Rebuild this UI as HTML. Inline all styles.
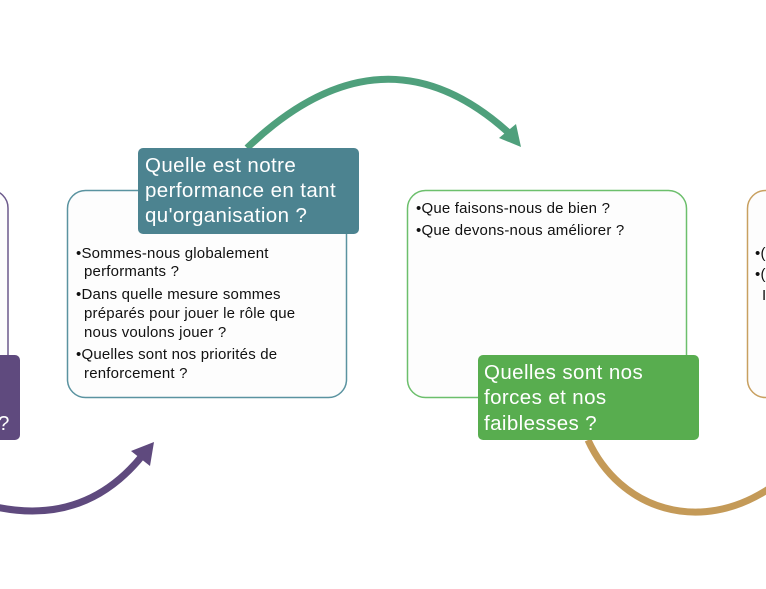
<!DOCTYPE html>
<html><head><meta charset="utf-8"><style>
html,body{margin:0;padding:0;background:#fff;width:766px;height:589px;overflow:hidden}
svg{display:block}
text{font-family:"Liberation Sans",sans-serif}
.b{font-size:15px;fill:#111;letter-spacing:0.2px}
.h{font-size:20.5px;fill:#fff;letter-spacing:0.4px}
</style></head><body>
<svg width="766" height="589" viewBox="0 0 766 589">
<path d="M247 148 Q383 18 510 134" fill="none" stroke="#4fa07c" stroke-width="7"/>
<polygon points="521,147 499,138 516,124" fill="#4fa07c"/>
<path d="M-20 503 Q80 532 142 456" fill="none" stroke="#5f4a7e" stroke-width="7"/>
<polygon points="154,442 150,466 131,451" fill="#5f4a7e"/>
<path d="M588 440 C620 510 700 535 770 488" fill="none" stroke="#c49a58" stroke-width="7"/>
<rect x="-40" y="190" width="48" height="207" rx="18" fill="#fdfdfd" stroke="#6c5a8c" stroke-width="1.5"/>
<rect x="-40" y="355" width="60" height="85" rx="5" fill="#5f4a7e"/>
<text class="h" x="-2" y="430">?</text>
<rect x="67.5" y="190.5" width="279" height="207" rx="18" fill="#fdfdfd" stroke="#5a93a0" stroke-width="1.5"/>
<rect x="138" y="148" width="221" height="86" rx="5" fill="#4c8390"/>
<text class="h" x="145" y="172">Quelle est notre</text>
<text class="h" x="145" y="197">performance en tant</text>
<text class="h" x="145" y="222">qu'organisation ?</text>
<text class="b" x="76" y="258">•Sommes-nous globalement</text>
<text class="b" x="84" y="276">performants ?</text>
<text class="b" x="76" y="299">•Dans quelle mesure sommes</text>
<text class="b" x="84" y="318">préparés pour jouer le rôle que</text>
<text class="b" x="84" y="337">nous voulons jouer ?</text>
<text class="b" x="76" y="359">•Quelles sont nos priorités de</text>
<text class="b" x="84" y="378">renforcement ?</text>
<rect x="407.5" y="190.5" width="279" height="207" rx="18" fill="#fdfdfd" stroke="#6cbf6c" stroke-width="1.5"/>
<rect x="478" y="355" width="221" height="85" rx="5" fill="#58ad4f"/>
<text class="h" x="484" y="379">Quelles sont nos</text>
<text class="h" x="484" y="404">forces et nos</text>
<text class="h" x="484" y="430">faiblesses ?</text>
<text class="b" x="416" y="213">•Que faisons-nous de bien ?</text>
<text class="b" x="416" y="235">•Que devons-nous améliorer ?</text>
<rect x="747.5" y="190.5" width="80" height="207" rx="18" fill="#fdfdfd" stroke="#c8a060" stroke-width="1.5"/>
<text class="b" x="755" y="258">•(</text>
<text class="b" x="755" y="279">•(</text>
<text class="b" x="762" y="300">I</text>
</svg>
</body></html>
